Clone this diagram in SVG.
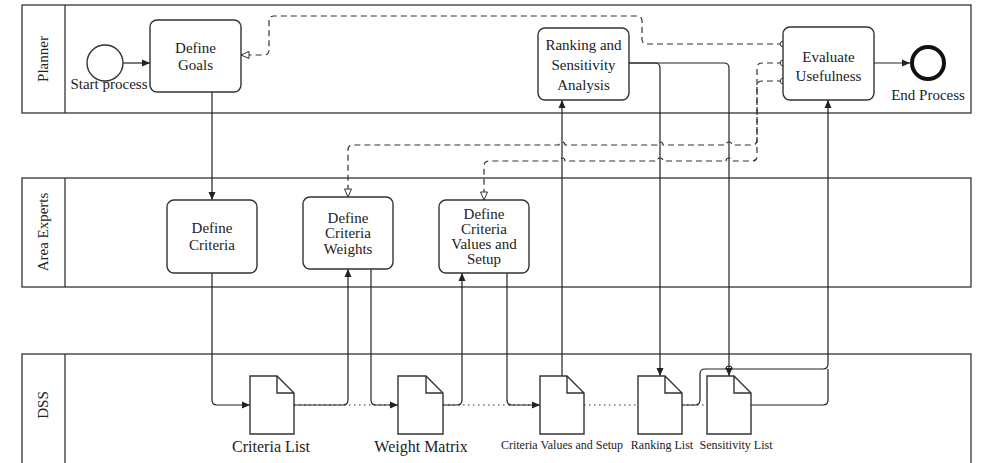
<svg xmlns="http://www.w3.org/2000/svg" width="981" height="463" viewBox="0 0 981 463">
<style>
.lane{fill:none;stroke:#333;stroke-width:1.3}
.lbl{font-family:"Liberation Serif",serif;font-size:15px;fill:#222;text-anchor:middle}
.task{fill:#fff;stroke:#333;stroke-width:1.4}
.doc{fill:#fff;stroke:#333;stroke-width:1.4}
.flow{fill:none;stroke:#222;stroke-width:1.2}
.msg{fill:none;stroke:#333;stroke-width:1.2;stroke-dasharray:6,4}
.dot{fill:none;stroke:#333;stroke-width:1.2;stroke-dasharray:1.5,3.5}
.big{font-size:16px}
.small{font-size:12px}
</style>
<defs>
<marker id="arr" markerWidth="9" markerHeight="8" refX="8" refY="4" orient="auto" markerUnits="userSpaceOnUse"><path d="M0,0.5 L8,4 L0,7.5 z" fill="#222"/></marker>
<marker id="open" markerWidth="10" markerHeight="10" refX="9" refY="5" orient="auto" markerUnits="userSpaceOnUse"><path d="M1,1.5 L9,5 L1,8.5 z" fill="#fff" stroke="#333" stroke-width="1"/></marker>
<marker id="org" markerWidth="8" markerHeight="8" refX="4" refY="4" orient="auto" markerUnits="userSpaceOnUse"><circle cx="4" cy="4" r="2.8" fill="#fff" stroke="#333" stroke-width="1"/></marker>
</defs>

<g id="lanes">
<rect class="lane" x="22" y="5" width="949" height="108"/>
<line class="lane" x1="65" y1="5" x2="65" y2="113"/>
<text class="lbl" transform="translate(48,59) rotate(-90)">Planner</text>
<rect class="lane" x="22" y="178" width="949" height="109"/>
<line class="lane" x1="65" y1="178" x2="65" y2="287"/>
<text class="lbl" transform="translate(48,232) rotate(-90)">Area Experts</text>
<rect class="lane" x="22" y="354" width="949" height="130"/>
<line class="lane" x1="65" y1="354" x2="65" y2="463"/>
<text class="lbl" transform="translate(48,405) rotate(-90)">DSS</text>
</g>

<g id="connectors">
<path class="flow" d="M123,63 H150" marker-end="url(#arr)"/>
<path class="flow" d="M212,92 V200" marker-end="url(#arr)"/>
<path class="dot" d="M294,405 H398"/>
<path class="dot" d="M443,405 H540"/>
<path class="dot" d="M584,405 H638"/>
<path class="dot" d="M682,405 H707"/>
<path class="flow" d="M212,273 V400 Q212,405 217,405 H250" marker-end="url(#arr)"/>
<path class="flow" d="M294,405 H343 Q348,405 348,400 V269" marker-end="url(#arr)"/>
<path class="flow" d="M371,269 V400 Q371,405 376,405 H398" marker-end="url(#arr)"/>
<path class="flow" d="M443,405 H457 Q462,405 462,400 V273" marker-end="url(#arr)"/>
<path class="flow" d="M507,273 V400 Q507,405 512,405 H540" marker-end="url(#arr)"/>
<path class="flow" d="M562,376 V100" marker-end="url(#arr)"/>
<path class="flow" d="M629,63 H655 Q660,63 660,68 V376" marker-end="url(#arr)"/>
<path class="flow" d="M629,63 H724 Q729,63 729,68 V376" marker-end="url(#arr)"/>
<path class="flow" d="M682,405 H695 Q700,405 700,400 V374 Q700,369 705,369 H726 A3,3 0 0 1 732,369 H823 Q828,369 828,364 V100" marker-end="url(#arr)"/>
<path class="flow" d="M751,405 H823 Q828,405 828,400 V369"/>
<path class="flow" d="M874,63 H910" marker-end="url(#arr)"/>
<path class="msg" d="M783,44 H647 Q642,44 642,39 V21 Q642,16 637,16 H274 Q269,16 269,21 V50 Q269,55 264,55 H241" marker-start="url(#org)" marker-end="url(#open)"/>
<path class="msg" d="M783,63 H762 Q757,63 757,68 V140 Q757,145 752,145 H732 A3,3 0 0 0 726,145 H663 A3,3 0 0 0 657,145 H565 A3,3 0 0 0 559,145 H353 Q348,145 348,150 V197" marker-start="url(#org)" marker-end="url(#open)"/>
<path class="msg" d="M783,81 H762 Q757,81 757,86 V156 Q757,161 752,161 H732 A3,3 0 0 0 726,161 H663 A3,3 0 0 0 657,161 H565 A3,3 0 0 0 559,161 H489 Q484,161 484,166 V200" marker-start="url(#org)" marker-end="url(#open)"/>
</g>

<g id="start">
<circle cx="105" cy="63" r="18" fill="#fff" stroke="#333" stroke-width="1.4"/>
<text class="lbl" x="109" y="89">Start process</text>
</g>
<g id="define-goals">
<rect class="task" x="150" y="20" width="91" height="72" rx="7"/>
<text class="lbl" x="195.5" y="53">Define</text>
<text class="lbl" x="195.5" y="70">Goals</text>
</g>
<g id="ranking">
<rect class="task" x="538" y="28" width="91" height="72" rx="7"/>
<text class="lbl" x="583.5" y="50">Ranking and</text>
<text class="lbl" x="583.5" y="70">Sensitivity</text>
<text class="lbl" x="583.5" y="90">Analysis</text>
</g>
<g id="evaluate">
<rect class="task" x="783" y="27" width="91" height="73" rx="7"/>
<text class="lbl" x="828.5" y="62">Evaluate</text>
<text class="lbl" x="828.5" y="81">Usefulness</text>
</g>
<g id="end">
<circle cx="928" cy="63" r="16" fill="#fff" stroke="#111" stroke-width="4"/>
<text class="lbl" x="928" y="100">End Process</text>
</g>
<g id="define-criteria">
<rect class="task" x="167" y="200" width="90" height="73" rx="7"/>
<text class="lbl" x="212" y="233">Define</text>
<text class="lbl" x="212" y="250">Criteria</text>
</g>
<g id="define-weights">
<rect class="task" x="303" y="197" width="90" height="72" rx="7"/>
<text class="lbl" x="348" y="223">Define</text>
<text class="lbl" x="348" y="238">Criteria</text>
<text class="lbl" x="348" y="254">Weights</text>
</g>
<g id="define-values">
<rect class="task" x="439" y="200" width="90" height="73" rx="7"/>
<text class="lbl" x="484" y="219">Define</text>
<text class="lbl" x="484" y="234">Criteria</text>
<text class="lbl" x="484" y="249">Values and</text>
<text class="lbl" x="484" y="264">Setup</text>
</g>
<g id="criteria-list">
<path class="doc" d="M250,376 H277 L294,393 V434 H250 Z M277,376 V393 H294"/>
<text class="lbl big" x="271" y="452">Criteria List</text>
</g>
<g id="weight-matrix">
<path class="doc" d="M398,376 H426 L443,393 V434 H398 Z M426,376 V393 H443"/>
<text class="lbl big" x="421" y="452">Weight Matrix</text>
</g>
<g id="criteria-values">
<path class="doc" d="M540,376 H567 L584,393 V434 H540 Z M567,376 V393 H584"/>
<text class="lbl small" x="562" y="449">Criteria Values and Setup</text>
</g>
<g id="ranking-list">
<path class="doc" d="M638,376 H665 L682,393 V434 H638 Z M665,376 V393 H682"/>
<text class="lbl small" x="662" y="449">Ranking List</text>
</g>
<g id="sensitivity-list">
<path class="doc" d="M707,376 H734 L751,393 V434 H707 Z M734,376 V393 H751"/>
<text class="lbl small" x="736" y="449">Sensitivity List</text>
</g>
</svg>
